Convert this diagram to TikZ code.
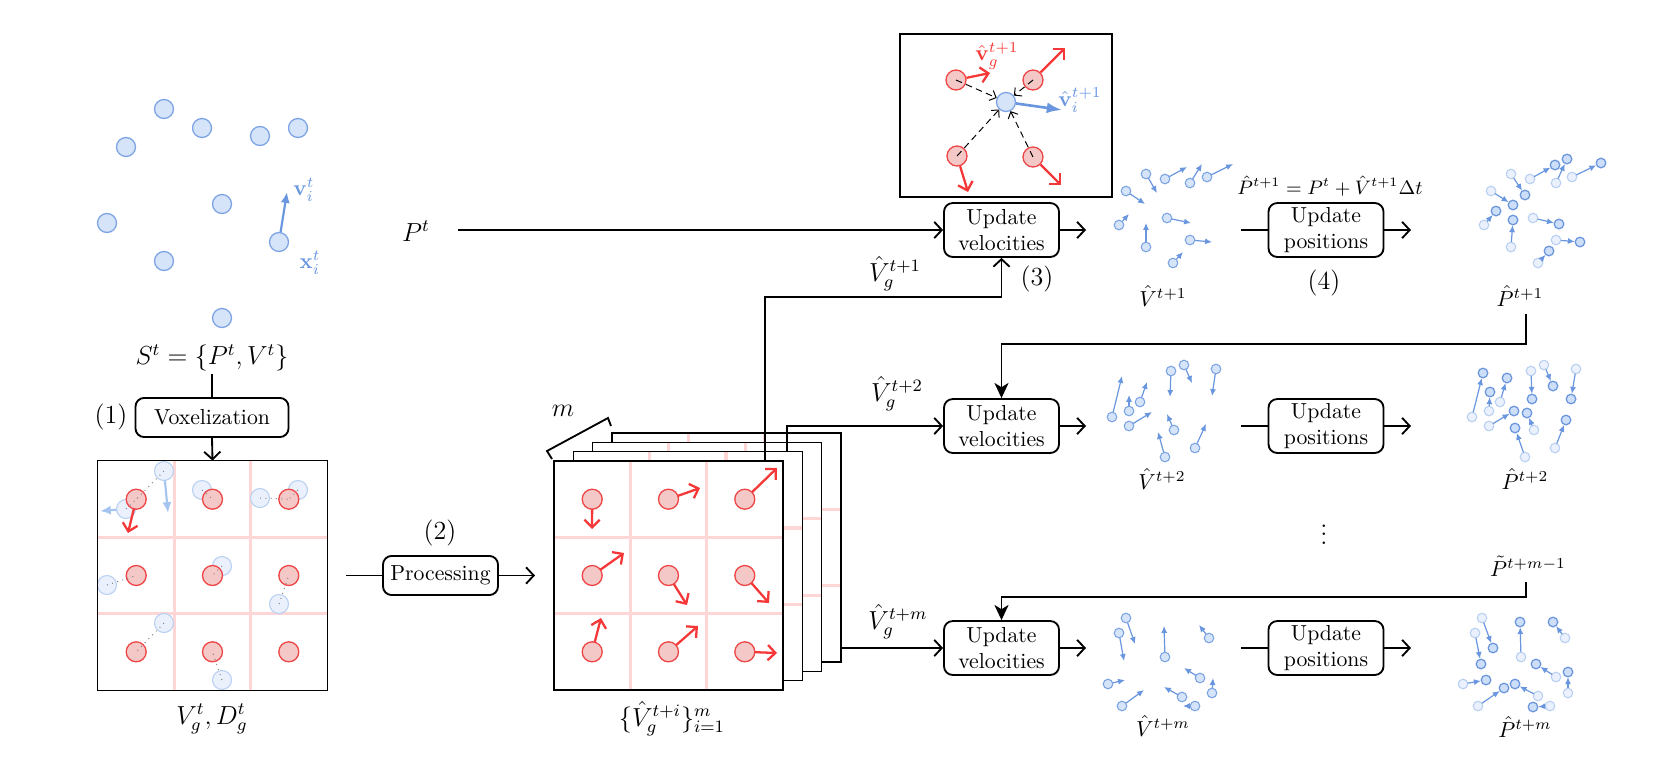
\documentclass[tikz,border=0pt]{standalone}
\usetikzlibrary{arrows.meta,calc}
\definecolor{bfill}{RGB}{214,228,250}
\definecolor{bline}{RGB}{125,165,228}
\definecolor{barrow}{RGB}{105,150,222}
\definecolor{bfade}{RGB}{234,241,252}
\definecolor{bfadeline}{RGB}{185,208,242}
\definecolor{bgarrow}{RGB}{165,196,240}
\definecolor{bnew}{RGB}{205,222,248}
\definecolor{bnewline}{RGB}{110,152,222}
\definecolor{rfill}{RGB}{245,200,200}
\definecolor{rline}{RGB}{238,70,70}
\definecolor{rarrow}{RGB}{245,55,55}
\definecolor{pinkgrid}{RGB}{255,214,214}
\tikzset{
  box/.style={draw, line width=0.85pt, rounded corners=4pt, align=center, inner sep=1pt, fill=white},
  uvbox/.style={box, minimum width=52.9pt, minimum height=24.8pt},
  lab/.style={font=\large, inner sep=1pt},
  conn/.style={line width=0.85pt},
  flow/.style={conn, -{Straight Barb[length=3.5pt,width=7.5pt]}},
  fb/.style={conn, -{Stealth[length=7pt,width=6.5pt,inset=2pt]}},
  bpbig/.style={fill=bfill, draw=bline, line width=0.6pt},
  bpsmall/.style={fill=bfill, draw=bline, line width=0.5pt},
  bpold/.style={fill=bfade, draw=bfadeline, line width=0.5pt},
  bpnew/.style={fill=bnew, draw=bnewline, line width=0.6pt},
  varr/.style={draw=barrow, line width=0.55pt, -{Latex[length=3.2pt,width=2.8pt]}, shorten <=2.2pt},
  parr/.style={varr, shorten >=2.4pt},
  rp/.style={fill=rfill, draw=rline, line width=0.6pt},
  rarr/.style={draw=rarrow, line width=1.05pt, -{Straight Barb[length=3.5pt,width=7pt]}, shorten <=4.6pt},
  fgrid/.style={draw=pinkgrid, line width=1.4pt},
  dotc/.style={draw=gray, dotted, line width=0.45pt},
  gframe/.style={line width=0.6pt},
  dsh/.style={densely dashed, line width=0.45pt, -{Straight Barb[length=2.5pt,width=5pt]}},
}
\begin{document}
\begin{tikzpicture}[x=0.46pt,y=-0.46pt]
\useasboundingbox (0,0) rectangle (1661,772);

% ---------- initial particles ----------
\draw[draw=barrow, line width=1pt, -{Latex[length=5pt,width=4.2pt]}, shorten <=4.4pt] (279,242) -- (287,192);
\foreach \ax/\ay in {164/109,202/128,126/147,260/136,298/128,222/204,107/223,279/242,164/261,222/318}
  \draw[bpbig] (\ax,\ay) circle (9.5);
\node[text=barrow] (vlab) at (304,190) {$\mathbf{v}_i^t$};
\node[text=barrow] (xlab) at (310,263) {$\mathbf{x}_i^t$};

\node[lab] (st) at (212,358) {$S^t=\{P^t,V^t\}$};
\node[box, minimum width=70.4pt, minimum height=18pt] (vox) at (212,417.5) {Voxelization};
\node[lab] (n1) at (111,417) {(1)};
\draw[conn] (st.south) -- (vox.north);

% ---------- voxel grid ----------
\node[minimum width=105.34pt, minimum height=105.34pt, inner sep=0] (grid) at (212.5,575.5) {};
\draw[fgrid] (174.3,461) -- (174.3,690) (250.7,461) -- (250.7,690)
             (98,537.3) -- (327,537.3) (98,613.7) -- (327,613.7);
\foreach \ax/\ay in {164/471,126/509,202/490,260/498,298/490,107/585,222/566,279/604,164/623,222/680}
  \draw[bpold] (\ax,\ay) circle (9.5);
\foreach \ax/\ay in {136.2/499.2,212.5/499.2,288.8/499.2,136.2/575.5,212.5/575.5,288.8/575.5,136.2/651.8,212.5/651.8,288.8/651.8}
  \draw[rp] (\ax,\ay) circle (10);
\foreach \ax/\ay/\bx/\by in {164/471/136.2/499.2,126/509/136.2/499.2,202/490/212.5/499.2,260/498/288.8/499.2,298/490/288.8/499.2,107/585/136.2/575.5,222/566/212.5/575.5,279/604/288.8/575.5,164/623/136.2/651.8,222/680/212.5/651.8}
  \draw[dotc] (\ax,\ay) -- (\bx,\by);
\draw[draw=bgarrow, line width=1pt, -{Latex[length=5pt,width=4.2pt]}, shorten <=4.4pt] (164,471) -- (168,513);
\draw[draw=bgarrow, line width=1pt, -{Latex[length=5pt,width=4.2pt]}, shorten <=4.4pt] (126,509) -- (100,511);
\draw[rarr] (136.2,499.2) -- (128,533);
\draw[gframe] (grid.south west) rectangle (grid.north east);
\draw[flow] (vox.south) -- (grid.north);
\node[lab] (glab) at (212,719) {$V_g^t, D_g^t$};

% ---------- processing ----------
\node[box, minimum width=52.9pt, minimum height=18pt] (proc) at (440.5,575.5) {Processing};
\node[lab] (n2) at (440,533) {(2)};
\coordinate (gout) at (346,575.5);
\coordinate (sin) at (535,575.5);
\draw[conn] (gout) -- (proc.west);
\draw[flow] (proc.east) -- (sin);

% ---------- stack of grids ----------
\foreach \k in {3,2,1,0} {
  \begin{scope}[shift={(19.3*\k,-9.3*\k)}]
    \fill[white] (554,461) rectangle (783,690);
    \draw[fgrid] (630.3,461) -- (630.3,690) (706.7,461) -- (706.7,690)
                 (554,537.3) -- (783,537.3) (554,613.7) -- (783,613.7);
    \draw[gframe] (554,461) rectangle (783,690);
  \end{scope}
}
\node[inner sep=0, minimum width=105.34pt, minimum height=105.34pt] (stk) at (668.5,575.5) {};
\foreach \ax/\ay/\bx/\by in {592.2/499.2/592/529,668.5/499.2/700/488,744.8/499.2/777/468,
                     592.2/575.5/624/553,668.5/575.5/687/605,744.8/575.5/769/603,
                     592.2/651.8/601/618,668.5/651.8/698/626,744.8/651.8/777/653} {
  \draw[rp] (\ax,\ay) circle (10);
  \draw[rarr] (\ax,\ay) -- (\bx,\by);
}
\draw[conn] (552,459) -- (547,451) -- (608,418) -- (611,426);
\node[lab] (mlab) at (563,411) {$m$};
\node[lab] (slab) at (672,719) {$\{\hat V_g^{t+i}\}_{i=1}^m$};

% ---------- inset ----------
\draw[line width=1.2pt] (900,34) rectangle (1112,197);
\node[circle, fill=bfill, draw=bline, line width=0.6pt, minimum size=8.74pt, inner sep=0] (bc) at (1006,102) {};
\node[circle, rp, minimum size=9.2pt, inner sep=0] (r1) at (956,80) {};
\node[circle, rp, minimum size=9.2pt, inner sep=0] (r2) at (1033,80) {};
\node[circle, rp, minimum size=9.2pt, inner sep=0] (r3) at (957,156) {};
\node[circle, rp, minimum size=9.2pt, inner sep=0] (r4) at (1033,157) {};
\foreach \r in {r1,r2,r3,r4} \draw[dsh] (\r.center) -- (bc);
\draw[rarr, shorten <=0pt] (r1) -- (990,73);
\draw[rarr, shorten <=0pt] (r2) -- (1065,48);
\draw[rarr, shorten <=0pt] (r3) -- (968,192);
\draw[rarr, shorten <=0pt] (r4) -- (1061,185);
\draw[draw=barrow, line width=1.2pt, -{Latex[length=7pt,width=5pt]}] (bc) -- (1062,110);
\node[text=rarrow] (vg) at (997,56) {$\hat{\mathbf{v}}_g^{t+1}$};
\node[text=barrow] (vi) at (1080,100) {$\hat{\mathbf{v}}_i^{t+1}$};

% ---------- update boxes ----------
\node[uvbox] (uv1) at (1001.5,230) {Update\\velocities};
\node[uvbox] (uv2) at (1001.5,426) {Update\\velocities};
\node[uvbox] (uv3) at (1001.5,648) {Update\\velocities};
\node[uvbox] (up1) at (1326,230) {Update\\positions};
\node[uvbox] (up2) at (1326,426) {Update\\positions};
\node[uvbox] (up3) at (1326,648) {Update\\positions};

\node[lab] (pt) at (416,231) {$P^t$};
\coordinate (ptout) at (458,230);
\draw[flow] (ptout) -- (uv1.west);

\coordinate (s1) at (765,461);
\coordinate (s2) at (787,452);
\coordinate (s3) at (841,648);
\coordinate (j1) at (1001.5,297);
\draw[flow] (s1) |- (j1) -- (uv1.south);
\draw[flow] (s2) |- (uv2.west);
\draw[flow] (s3) -- (uv3.west);
\node[lab] (vg1) at (895,274) {$\hat V_g^{t+1}$};
\node[lab] (vg2) at (897,394) {$\hat V_g^{t+2}$};
\node[lab] (vg3) at (898,622) {$\hat V_g^{t+m}$};
\node[lab] (n3) at (1037,279) {(3)};
\node[lab] (n4) at (1324,283) {(4)};
\node[font=\small] (form) at (1330,186) {$\hat P^{t+1} = P^t + \hat V^{t+1}\Delta t$};

\foreach \i/\y in {1/230,2/426,3/648} {
  \coordinate (vin\i) at (1086,\y);
  \coordinate (vout\i) at (1241,\y);
  \coordinate (pin\i) at (1411,\y);
  \draw[flow] (uv\i.east) -- (vin\i);
  \draw[conn] (vout\i) -- (up\i.west);
  \draw[flow] (up\i.east) -- (pin\i);
}

% ---------- particle clouds ----------
\foreach \ax/\ay/\bx/\by in {1146/174/1157/193,1165/179/1187/167,1190/183/1202/164,1207/177/1233/164,1126/191/1145/204,1119/225/1129/214,1167/218/1191/223,1146/247/1146/223,1190/240/1212/242,1173/263/1183/252,
                     1112/417/1122/376,1129/411/1129/395,1140/402/1147/382,1171/371/1170/397,1184/365/1192/383,1216/369/1212/396,1129/426/1152/412,1174/430/1167/414,1165/457/1158/432,1195/448/1206/424,
                     1126/618/1135/644,1119/633/1124/661,1165/657/1164/626,1209/638/1199/625,1108/684/1125/680,1122/706/1144/690,1200/678/1184/668,1212/693/1213/678,1182/697/1164/687,1195/706/1183/706} {
  \draw[varr] (\ax,\ay) -- (\bx,\by);
  \draw[bpsmall] (\ax,\ay) circle (4.8);
}
\foreach \ax/\ay/\bx/\by in {1511/174/1525/195,1530/179/1555/165,1556/183/1567/159,1572/177/1601/163,1491/191/1513/205,1484/225/1496/211,1533/218/1559/224,1511/247/1513/220,1556/240/1580/242,1538/263/1549/251,
                     1472/417/1483/373,1489/411/1490/392,1500/402/1507/378,1531/371/1532/399,1544/365/1553/386,1576/369/1571/399,1489/426/1514/411,1534/430/1527/413,1525/457/1515/428,1555/448/1566/420,
                     1482/618/1493/648,1475/633/1481/664,1521/657/1520/622,1565/638/1553/622,1463/684/1486/680,1478/706/1504/688,1556/677/1536/664,1568/693/1568/672,1538/696/1515/684,1550/706/1533/707} {
  \draw[bpold] (\ax,\ay) circle (4.8);
  \draw[bpnew] (\bx,\by) circle (4.8);
  \draw[parr] (\ax,\ay) -- (\bx,\by);
}
\node (lv1) at (1163,296) {$\hat V^{t+1}$};
\node (lp1) at (1520,296) {$\hat P^{t+1}$};
\node (lv2) at (1162,479) {$\hat V^{t+2}$};
\node (lp2) at (1525,479) {$\hat P^{t+2}$};
\node (lv3) at (1163,726) {$\hat V^{t+m}$};
\node (lp3) at (1525,727) {$\hat P^{t+m}$};
\node (lpm) at (1528,566) {$\tilde P^{t+m-1}$};
\node[lab] (dots) at (1324,528) {$\vdots$};

% ---------- feedback ----------
\coordinate (fb1) at (1526,314);
\coordinate (j2) at (1001.5,344);
\draw[fb] (fb1) |- (j2) -- (uv2.north);
\coordinate (fb2) at (1526,582);
\coordinate (j3) at (1001.5,597);
\draw[fb] (fb2) |- (j3) -- (uv3.north);
\end{tikzpicture}
\end{document}
